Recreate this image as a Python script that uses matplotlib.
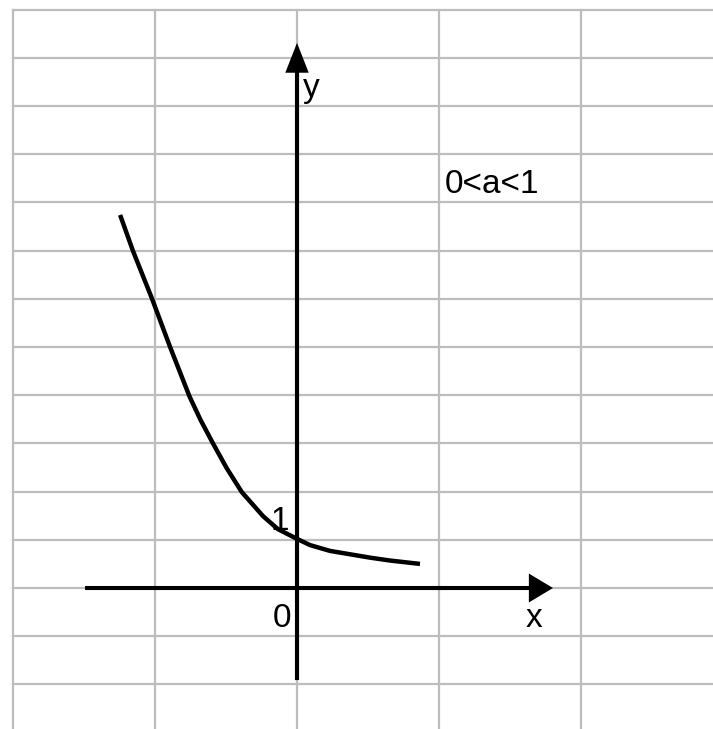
import matplotlib.pyplot as plt

# curve points (x in grid columns, y in grid rows)
curve_x = [-1.246, -1.155, -1.021, -0.894, -0.758, -0.680, -0.590, -0.496, -0.389,
           -0.239, -0.134, 0.0, 0.092, 0.232, 0.373, 0.514, 0.655, 0.866]
curve_y = [7.74, 6.99, 6.00, 5.00, 3.98, 3.49, 2.99, 2.49, 1.99,
           1.49, 1.22, 1.02, 0.89, 0.77, 0.70, 0.63, 0.57, 0.50]

grid_cols = [-2, -1, 0, 1, 2]
grid_rows = list(range(-2, 13))

plt.rcParams['font.family'] = ['Liberation Sans', 'DejaVu Sans']

fig = plt.figure(figsize=(7.13, 7.29), dpi=100)
ax = fig.add_axes([0, 0, 1, 1])
ax.set_xlim(-2.092, 2.930)
ax.set_ylim(-2.925, 12.199)
ax.axis('off')

grid_color = '#bdbdbd'
for gx in grid_cols:
    ax.plot([gx, gx], [-2.925, 12], color=grid_color, lw=1.6, zorder=1)
for gy in grid_rows:
    ax.plot([-2, 2.930], [gy, gy], color=grid_color, lw=1.6, zorder=1)

# axes with arrow heads
ax.arrow(-1.493, 0, 1.803 + 1.493, 0, width=0.085, head_width=0.60, head_length=0.17,
         length_includes_head=True, color='black', lw=0, zorder=3)
ax.arrow(0, -1.91, 0, 11.31 + 1.91, width=0.029, head_width=0.165, head_length=0.62,
         length_includes_head=True, color='black', lw=0, zorder=3)

ax.plot(curve_x, curve_y, color='black', lw=3.2, solid_capstyle='butt',
        solid_joinstyle='round', zorder=4)

fs = 24
ax.text(0.042, 10.19, 'y', fontsize=fs, ha='left', va='baseline')
ax.text(1.61, -0.81, 'x', fontsize=fs, ha='left', va='baseline')
ax.text(-0.042, -0.81, '0', fontsize=fs, ha='right', va='baseline')
ax.text(-0.056, 1.2, '1', fontsize=fs, ha='right', va='baseline')
ax.text(1.042, 8.19, '0<a<1', fontsize=fs, ha='left', va='baseline')

fig.savefig('out.png', dpi=100)
